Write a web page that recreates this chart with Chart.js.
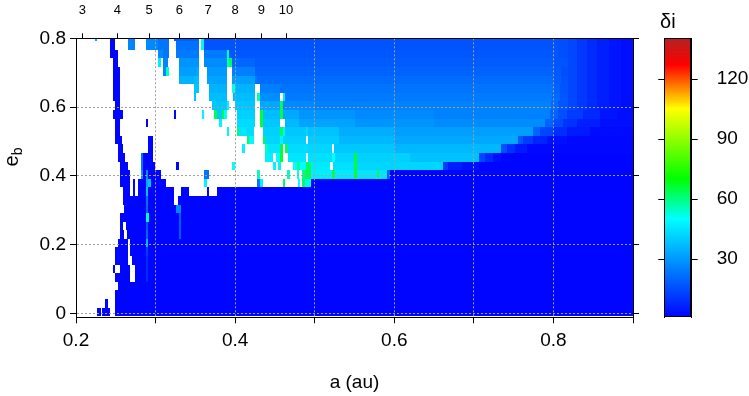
<!DOCTYPE html>
<html>
<head>
<meta charset="utf-8">
<script src="https://cdn.jsdelivr.net/npm/chart.js@4.4.0/dist/chart.umd.min.js"></script>
<style>
  body { margin: 0; background: #fff; }
  #wrap { position: relative; width: 749px; height: 396px; font-family: "Liberation Sans", Arial, sans-serif; color: #000; }
  canvas { position: absolute; top: 0; }
  #main { left: 0; }
  #bar { left: 640px; }
  .lbl { position: absolute; font-size: 20px; line-height: 24px; }
  #ylab { left: -5px; top: 145px; width: 32px; height: 24px; text-align: center; transform: rotate(-90deg); }
  #ylab sub { font-size: 14px; vertical-align: -4px; }
  #clab { left: 660px; top: 9px; }
</style>
</head>
<body>
<div id="wrap">
  <canvas id="main" width="640" height="396"></canvas>
  <canvas id="bar" width="109" height="396"></canvas>
  <div class="lbl" id="ylab">e<sub>b</sub></div>
  <div class="lbl" id="clab">δi</div>
</div>
<script>
// Axes
const xTickLabels = [0.2, 0.4, 0.6, 0.8];
const yTicks = [0, 0.2, 0.4, 0.6, 0.8];
const periodRatios = [3, 4, 5, 6, 7, 8, 9, 10];
const periodTickA = [0.208, 0.252, 0.292, 0.330, 0.366, 0.400, 0.433, 0.464];
const barTicks = [30, 60, 90, 120];

// rows of the map: e_b centre = eStart + eStep * k, listed from top (k = 32) to bottom (k = 0)
const eStart = 0.004;
const eStep = 0.025;

// each row: [a where the run starts, δi]  (null = no value, left white)
const tail = [[0.818, 14], [0.83, 11], [0.842, 8.5], [0.855, 6], [0.87, 4], [0.885, 2.5]];

const rows = [
  // k32
  [[0.2, null], [0.2239, 33], [0.2264, null], [0.2431, 1], [0.249, null], [0.2654, 26], [0.2741, null], [0.288, 27], [0.3031, 23], [0.3173, null], [0.3232, 19], [0.355, null], [0.3575, 48], [0.3608, 16.5], [0.806, 15.5], ...tail],
  // k31
  [[0.2, null], [0.2431, 1], [0.249, null], [0.2654, 26], [0.2741, null], [0.288, 27], [0.3031, 23], [0.3173, null], [0.3257, 22], [0.3546, null], [0.3575, 48], [0.3608, 16.5], [0.806, 15.5], ...tail],
  // k30
  [[0.2, null], [0.2431, 1], [0.2524, null], [0.3027, 27], [0.3097, 23], [0.3173, null], [0.3257, 24], [0.355, null], [0.3608, 24], [0.3893, 55], [0.3922, 17], [0.806, 15.5], ...tail],
  // k29
  [[0.2, null], [0.246, 1], [0.2524, null], [0.3027, 46], [0.3068, null], [0.3097, 26], [0.3156, null], [0.3294, 29], [0.355, null], [0.3608, 27], [0.3893, 55], [0.3922, 63], [0.396, 20], [0.4249, 18], [0.802, 16.5], ...tail],
  // k28
  [[0.2, null], [0.2465, 1], [0.255, null], [0.3097, 27], [0.3131, 54], [0.3173, null], [0.3294, 31], [0.3508, 33], [0.355, null], [0.3642, 30], [0.3893, null], [0.396, 25], [0.4249, 19.5], [0.80, 17.5], [0.81, 15.5], ...tail],
  // k27
  [[0.2, null], [0.2465, 1], [0.255, null], [0.3294, 35], [0.3483, 37], [0.3542, null], [0.3642, 32], [0.3893, null], [0.396, 31], [0.4249, 24], [0.4279, 21], [0.80, 18.5], [0.81, 16], ...tail],
  // k26
  [[0.2, null], [0.2465, 1], [0.255, null], [0.3483, 39], [0.3542, null], [0.3671, 35], [0.3893, null], [0.396, 52], [0.3998, 35], [0.4249, null], [0.4312, 25], [0.4563, 22.5], [0.799, 19.5], [0.808, 16.5], ...tail],
  // k25
  [[0.2, null], [0.2465, 1], [0.255, null], [0.3483, 39], [0.3508, null], [0.3671, 37], [0.3893, null], [0.3977, 37], [0.4249, null], [0.4279, 57], [0.4312, 28], [0.4563, null], [0.4597, 45], [0.4626, 24], [0.798, 20.5], [0.808, 17], ...tail],
  // k24
  [[0.2, null], [0.249, 1], [0.255, null], [0.3705, 39], [0.3893, 48], [0.3922, null], [0.3998, 39], [0.4249, null], [0.4312, 33], [0.4563, 64], [0.4597, 27], [0.5, 25.5], [0.797, 21], [0.806, 17], ...tail],
  // k23
  [[0.2, null], [0.2465, 1], [0.2587, null], [0.3232, 1], [0.3257, null], [0.3583, 48], [0.3609, null], [0.3734, 65], [0.3768, 39], [0.383, 65], [0.386, 50], [0.3893, null], [0.4019, 41], [0.4249, null], [0.4312, 66], [0.4346, 37], [0.4563, 65], [0.4597, 33], [0.48, 29], [0.55, 27], [0.65, 25.5], [0.7957, 19.6], [0.8062, 15.7], [0.8167, 11.8], [0.8376, 7.8], [0.8585, 3.9], [0.88, 2.5]],
  // k22
  [[0.2, null], [0.249, 1], [0.255, null], [0.288, 1], [0.2905, null], [0.3797, 48], [0.383, null], [0.4019, 43], [0.4249, null], [0.4312, 66], [0.4346, 39], [0.4563, null], [0.4626, 36], [0.48, 32], [0.55, 29], [0.65, 27.5], [0.7894, 19.6], [0.80, 14.7], [0.8125, 9.8], [0.829, 5.9], [0.8585, 2.9]],
  // k21
  [[0.2, null], [0.249, 1], [0.255, null], [0.3893, 48], [0.3922, null], [0.4019, 62], [0.4052, 45], [0.4145, 43], [0.4241, null], [0.4354, 41], [0.4563, 64], [0.4597, 48], [0.4626, 39], [0.489, 43], [0.492, 38], [0.53, 34], [0.6, 31], [0.7748, 19.6], [0.7831, 13.7], [0.80, 8.8], [0.8167, 4.9], [0.846, 2]],
  // k20
  [[0.2, null], [0.249, 1], [0.2574, null], [0.2905, 1], [0.2968, null], [0.4145, 63], [0.4178, 49], [0.4241, null], [0.4346, 64], [0.4379, 42], [0.4563, 48], [0.4597, 41], [0.489, null], [0.492, 40], [0.53, 36], [0.6, 33], [0.7559, 17.6], [0.762, 11.8], [0.7748, 6.9], [0.7915, 2.9], [0.8167, 1.5]],
  // k19
  [[0.2, null], [0.2528, 1], [0.2587, null], [0.2905, 1], [0.2968, null], [0.4086, 48], [0.4119, null], [0.4375, 55], [0.4417, 45], [0.4563, 65], [0.4597, null], [0.4626, 62], [0.4668, 43], [0.492, 42], [0.5213, null], [0.5245, 39], [0.6, 36], [0.7341, 15.7], [0.7412, 9.8], [0.7517, 4.9], [0.7664, 1.5]],
  // k18
  [[0.2, null], [0.2528, 1], [0.2616, null], [0.2817, 22], [0.2846, 1], [0.2968, null], [0.4375, 47], [0.448, null], [0.4513, 50], [0.4563, 66], [0.4597, null], [0.4668, 45], [0.489, null], [0.492, 44], [0.5213, 50], [0.5255, 42], [0.5494, 66], [0.5531, 41], [0.62, 38], [0.7065, 13.7], [0.714, 7.8], [0.7245, 2.9], [0.7341, 1]],
  // k17
  [[0.2, null], [0.2553, 1], [0.2654, null], [0.2817, 22], [0.2846, 1], [0.2993, null], [0.3257, 1], [0.3294, null], [0.396, 50], [0.3994, null], [0.4471, 48], [0.4513, null], [0.4543, 48], [0.4572, null], [0.4731, 50], [0.4773, 58], [0.4815, 50], [0.489, 63], [0.4949, 46], [0.5192, null], [0.5226, 44], [0.5494, 66], [0.5531, 42], [0.6616, 11.8], [0.668, 6], [0.685, 3], [0.7065, 1]],
  // k16
  [[0.2, null], [0.2553, 1], [0.2679, null], [0.2817, 28], [0.2838, 1], [0.288, 27], [0.2905, 1], [0.3068, null], [0.3609, 23], [0.3668, null], [0.427, 55], [0.4312, null], [0.4656, 55], [0.4689, null], [0.4773, 50], [0.4806, null], [0.4836, 60], [0.4878, 64], [0.4949, 47], [0.5213, 65], [0.5255, 46], [0.5494, 66], [0.5531, 45], [0.5783, 65], [0.5808, 45], [0.5908, 20], [0.5946, 1]],
  // k15
  [[0.2, null], [0.2553, 1], [0.2679, null], [0.2721, 1], [0.2746, null], [0.2779, 1], [0.288, 33], [0.2905, 39], [0.2943, 1], [0.3131, null], [0.3608, 48], [0.3642, null], [0.427, 23], [0.4312, 48], [0.4346, null], [0.4597, 64], [0.4626, null], [0.4785, 50], [0.4815, null], [0.4836, 62], [0.4878, 52], [0.4955, 1]],
  // k14
  [[0.2, null], [0.2587, 1], [0.2679, null], [0.2721, 1], [0.2746, null], [0.2779, 1], [0.288, 39], [0.2905, 1], [0.3232, null], [0.332, 1], [0.3416, null], [0.3643, 1], [0.3668, null], [0.3768, 1]],
  // k13
  [[0.2, null], [0.2587, 1], [0.288, 23], [0.2905, 1], [0.3232, null], [0.3283, 1]],
  // k12
  [[0.2, null], [0.2603, 1], [0.288, 20], [0.2905, 1], [0.3257, 27], [0.332, 1]],
  // k11
  [[0.2, null], [0.2553, 1], [0.288, 55], [0.292, 1], [0.3298, 18], [0.3324, 1]],
  // k10
  [[0.2, null], [0.2553, 1], [0.2594, null], [0.2624, 1], [0.288, 16], [0.2905, 1], [0.3298, 18], [0.3324, 1]],
  // k9
  [[0.2, null], [0.2553, 1], [0.2603, null], [0.2637, 1], [0.288, 20], [0.2905, 1], [0.3298, 18], [0.3324, 1]],
  // k8
  [[0.2, null], [0.2528, 1], [0.265, null], [0.2679, 1], [0.288, 36], [0.2905, 1]],
  // k7
  [[0.2, null], [0.249, 2], [0.2553, 1], [0.265, null], [0.2679, 1], [0.288, 12], [0.2905, 1]],
  // k6
  [[0.2, null], [0.249, 2], [0.2553, 1], [0.2654, null], [0.2704, 1], [0.288, 8], [0.2905, 1]],
  // k5
  [[0.2, null], [0.246, 1], [0.249, null], [0.2553, 1], [0.2679, null], [0.2742, 1], [0.288, 8], [0.2905, 1]],
  // k4
  [[0.2, null], [0.249, 1], [0.2679, null], [0.2742, 1], [0.288, 8], [0.2905, 1]],
  // k3
  [[0.2, null], [0.2524, 1]],
  // k2
  [[0.2, null], [0.249, 1]],
  // k1
  [[0.2, null], [0.2364, 1], [0.2398, null], [0.249, 1]],
  // k0
  [[0.2, null], [0.2262, 1], [0.2308, null], [0.2329, 1], [0.2427, null], [0.249, 1]]
];

// colour scale (blue - cyan - green - yellow - red - dark red)
const colourStops = [
  [0, [0, 0, 255]],
  [50, [0, 255, 255]],
  [70, [0, 255, 0]],
  [105, [255, 255, 0]],
  [127, [255, 0, 0]],
  [140.4, [178, 34, 34]]
];

function colour(v) {
  if (v <= colourStops[0][0]) return 'rgb(' + colourStops[0][1].join(',') + ')';
  for (let i = 1; i < colourStops.length; i++) {
    const [v1, c1] = colourStops[i];
    if (v <= v1) {
      const [v0, c0] = colourStops[i - 1];
      const t = (v - v0) / (v1 - v0);
      const c = c0.map((c, j) => Math.round(c + (c1[j] - c) * t));
      return 'rgb(' + c.join(',') + ')';
    }
  }
  return 'rgb(' + colourStops[colourStops.length - 1][1].join(',') + ')';
}

const fontFamily = '"Liberation Sans", Arial, sans-serif';
const tickFont = { family: fontFamily, size: 19 };
const gridGrey = '#a0a0a0';

// draws the map cells under the grid
const heatmap = {
  id: 'heatmap',
  beforeDraw(chart) {
    const { ctx, chartArea: area, scales: { x, y } } = chart;
    ctx.save();
    ctx.beginPath();
    ctx.rect(area.left, area.top, area.width, area.height);
    ctx.clip();
    rows.forEach((runs, i) => {
      const e = eStart + eStep * (rows.length - 1 - i);
      const top = Math.round(y.getPixelForValue(e + eStep / 2));
      const bottom = Math.round(y.getPixelForValue(e - eStep / 2));
      runs.forEach(([a, di], j) => {
        if (di === null) return;
        const aEnd = j + 1 < runs.length ? runs[j + 1][0] : x.max;
        const left = Math.round(x.getPixelForValue(a));
        const right = Math.round(x.getPixelForValue(aEnd));
        ctx.fillStyle = colour(di);
        ctx.fillRect(left, top, right - left, bottom - top);
      });
    });
    ctx.restore();
  }
};

new Chart(document.getElementById('main'), {
  type: 'scatter',
  data: { datasets: [{ data: [] }] },
  options: {
    responsive: false,
    animation: false,
    layout: { padding: 0 },
    plugins: { legend: { display: false }, tooltip: { enabled: false } },
    scales: {
      x: {
        type: 'linear', position: 'bottom', min: 0.2, max: 0.9,
        ticks: {
          stepSize: 0.1, color: '#000', font: tickFont, padding: 6, maxRotation: 0, autoSkip: false,
          callback: v => xTickLabels.some(t => Math.abs(t - v) < 1e-6) ? v.toFixed(1) : ''
        },
        grid: {
          color: c => (c.tick && (c.tick.value < 0.25 || c.tick.value > 0.85)) ? 'rgba(0,0,0,0)' : gridGrey,
          tickColor: '#000', tickLength: 6
        },
        border: { color: '#000', dash: [2, 2], z: 1 },
        title: { display: true, text: 'a (au)', color: '#000', font: tickFont, padding: { top: 0, bottom: 2 } },
        afterFit: s => { s.height = 78.7; }
      },
      x2: {
        type: 'linear', position: 'top', min: 0.2, max: 0.9,
        afterBuildTicks: s => { s.ticks = periodTickA.map(v => ({ value: v })); },
        ticks: {
          color: '#000', font: { family: fontFamily, size: 13 }, padding: 15, maxRotation: 0, autoSkip: false,
          callback: (v, i) => String(periodRatios[i])
        },
        grid: { drawOnChartArea: false, tickColor: '#000', tickLength: 5 },
        border: { color: '#000', z: 1 },
        afterFit: s => { s.height = 38.3; }
      },
      y: {
        type: 'linear', position: 'left', min: -0.0116, max: 0.8,
        afterBuildTicks: s => { s.ticks = yTicks.map(v => ({ value: v })); },
        ticks: { color: '#000', font: tickFont, padding: 4, callback: v => v === 0 ? '0' : v.toFixed(1) },
        grid: {
          color: c => (c.tick && c.tick.value > 0.75) ? 'rgba(0,0,0,0)' : gridGrey,
          tickColor: '#000', tickLength: 6
        },
        border: { color: '#000', dash: [2, 2], z: 1 },
        afterFit: s => { s.width = 76; }
      },
      y2: {
        type: 'linear', position: 'right', min: -0.0116, max: 0.8,
        afterBuildTicks: s => { s.ticks = yTicks.map(v => ({ value: v })); },
        ticks: { display: false },
        grid: { drawOnChartArea: false, tickColor: '#000', tickLength: 6 },
        border: { color: '#000', z: 1 },
        afterFit: s => { s.width = 7; }
      }
    }
  },
  plugins: [heatmap]
});

// colour bar
const colourBar = {
  id: 'colourBar',
  beforeDraw(chart) {
    const { ctx, chartArea: area, scales: { yR } } = chart;
    for (let v = yR.min; v < yR.max; v += 0.5) {
      const y0 = Math.round(yR.getPixelForValue(Math.min(v + 0.5, yR.max)));
      const y1 = Math.round(yR.getPixelForValue(v));
      ctx.fillStyle = colour(v + 0.25);
      ctx.fillRect(area.left, y0, area.width, Math.max(1, y1 - y0));
    }
  },
  afterDraw(chart) {
    const { ctx, chartArea: area } = chart;
    ctx.save();
    ctx.strokeStyle = '#000';
    ctx.lineWidth = 1;
    ctx.strokeRect(Math.round(area.left) + 0.5, Math.round(area.top) + 0.5, Math.round(area.width) - 1, Math.round(area.height) - 1);
    ctx.restore();
  }
};

new Chart(document.getElementById('bar'), {
  type: 'scatter',
  data: { datasets: [{ data: [], xAxisID: 'x', yAxisID: 'yR' }] },
  options: {
    responsive: false,
    animation: false,
    layout: { padding: { top: 38.3, bottom: 78.7, left: 0, right: 0 } },
    plugins: { legend: { display: false }, tooltip: { enabled: false } },
    scales: {
      x: { type: 'linear', display: false, min: 0, max: 1 },
      yL: {
        type: 'linear', position: 'left', min: 0.9, max: 140.4,
        afterBuildTicks: s => { s.ticks = barTicks.map(v => ({ value: v })); },
        ticks: { callback: () => '' },
        grid: { drawOnChartArea: false, tickColor: '#000', tickLength: 6 },
        border: { color: '#000' },
        afterFit: s => { s.width = 24.3; }
      },
      yR: {
        type: 'linear', position: 'right', min: 0.9, max: 140.4,
        afterBuildTicks: s => { s.ticks = barTicks.map(v => ({ value: v })); },
        ticks: { color: '#000', font: tickFont, padding: 19 },
        grid: { drawOnChartArea: false, tickColor: '#000', tickLength: 6 },
        border: { color: '#000' },
        afterFit: s => { s.width = 57.3; }
      }
    }
  },
  plugins: [colourBar]
});
</script>
</body>
</html>
